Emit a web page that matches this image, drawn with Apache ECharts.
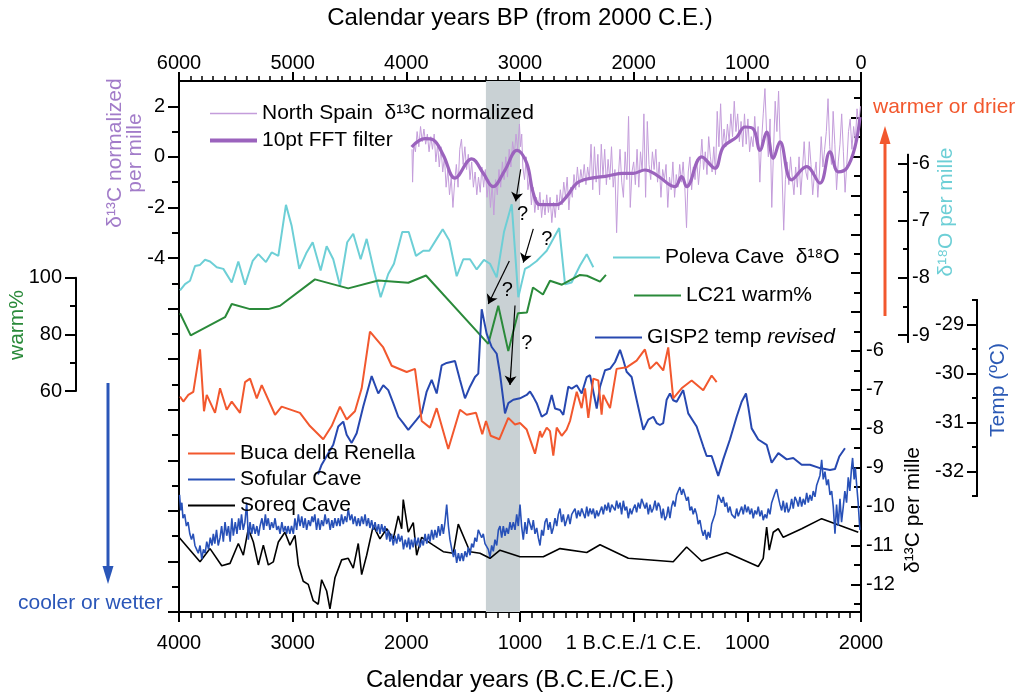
<!DOCTYPE html>
<html><head><meta charset="utf-8">
<script src="https://cdn.jsdelivr.net/npm/echarts@6/dist/echarts.min.js"></script>
<style>html,body{margin:0;padding:0;background:#fff}#c{width:1019px;height:697px}</style>
</head><body><div id="c"></div><script>
const FONT = '"Liberation Sans", Arial, Helvetica, sans-serif';

// ---- data (year C.E., negative = B.C.E.) ----
const spainRaw = [[-1950,0.3],[-1945,-1.0],[-1935,0.5],[-1920,0.2],[-1905,1.0],[-1890,0.4],[-1875,1.2],[-1860,0.6],[-1845,1.1],[-1830,0.5],[-1815,0.9],[-1800,0.2],[-1785,0.8],[-1770,0.3],[-1755,0.9],[-1740,-0.2],[-1725,0.5],[-1710,-0.4],[-1695,0.4],[-1680,-0.6],[-1665,0.0],[-1650,-1.2],[-1635,-0.5],[-1620,-1.5],[-1605,-0.8],[-1590,-2.0],[-1575,-1.0],[-1560,-0.3],[-1545,-1.2],[-1530,0.3],[-1515,0.7],[-1500,-0.3],[-1485,0.4],[-1470,-0.5],[-1455,0.1],[-1440,-0.9],[-1425,-0.2],[-1410,-1.2],[-1395,-0.6],[-1380,-1.5],[-1365,-0.8],[-1350,-1.4],[-1335,-0.4],[-1320,-1.2],[-1305,-0.5],[-1290,-1.6],[-1275,-0.9],[-1260,-2.0],[-1245,-1.1],[-1230,-2.3],[-1215,-0.9],[-1200,-1.5],[-1185,-0.5],[-1170,-1.2],[-1155,-0.2],[-1140,-0.9],[-1125,0.0],[-1110,-0.8],[-1095,0.3],[-1080,-0.4],[-1065,0.6],[-1050,0.1],[-1035,0.9],[-1020,0.3],[-1005,1.3],[-995,0.4],[-985,0.9],[-975,-0.4],[-960,-0.9],[-945,0.0],[-930,-1.3],[-915,-0.8],[-900,-1.9],[-885,-1.2],[-870,-2.2],[-855,-1.6],[-840,-2.1],[-825,-1.4],[-810,-2.4],[-795,-1.7],[-780,-2.3],[-765,-1.5],[-750,-2.2],[-735,-1.6],[-720,-2.6],[-705,-1.8],[-690,-2.4],[-675,-1.5],[-660,-2.1],[-645,-1.3],[-630,-1.9],[-615,-1.0],[-600,-1.6],[-585,-0.8],[-570,-2.1],[-555,-1.2],[-540,-1.6],[-525,-0.7],[-510,-1.3],[-495,-0.4],[-480,-1.2],[-465,-0.5],[-450,-1.0],[-435,-0.3],[-420,-1.1],[-405,-0.4],[-390,-0.9],[-375,0.5],[-360,-1.3],[-345,0.4],[-330,-1.0],[-315,0.1],[-300,-1.5],[-285,0.5],[-270,-0.8],[-255,0.3],[-240,-1.1],[-225,-0.1],[-210,-0.9],[-195,0.4],[-180,-1.2],[-165,-0.5],[-150,-3.0],[-135,-0.8],[-120,0.3],[-105,-1.0],[-90,-1.6],[-75,0.2],[-60,-0.9],[-45,1.6],[-30,-2.0],[-15,-0.6],[0,-0.2],[15,-1.1],[30,0.3],[45,-1.2],[60,0.2],[75,-0.6],[90,1.7],[105,-1.6],[120,1.4],[135,-0.3],[150,-0.9],[165,0.2],[180,-0.5],[195,0.3],[210,-1.0],[225,-0.2],[240,-1.6],[255,-0.5],[270,-0.9],[285,-0.3],[300,-2.0],[315,-0.8],[330,-1.3],[345,-0.2],[360,-1.6],[375,-0.7],[390,-1.2],[405,-0.3],[420,-1.0],[435,-0.2],[450,-1.2],[465,-2.8],[480,-0.6],[495,0.0],[510,-1.3],[525,-0.4],[540,-0.9],[555,-0.1],[570,-1.1],[585,-0.3],[600,0.7],[615,-0.5],[630,0.2],[645,-0.7],[660,0.8],[675,0.0],[690,-0.6],[705,0.4],[720,-0.7],[735,1.8],[750,0.4],[765,2.1],[780,0.3],[795,1.1],[810,0.4],[825,1.3],[840,0.6],[855,1.7],[870,0.8],[885,2.2],[900,1.0],[915,1.7],[930,0.6],[945,1.4],[960,0.4],[975,1.7],[990,0.5],[1005,1.5],[1020,0.2],[1035,0.8],[1050,0.4],[1065,1.6],[1080,0.5],[1095,1.2],[1110,-1.0],[1125,0.6],[1140,1.7],[1155,2.7],[1170,0.9],[1185,0.0],[1200,1.5],[1215,-2.0],[1230,0.2],[1245,2.2],[1260,1.0],[1275,2.6],[1290,0.4],[1305,-0.6],[1320,-2.9],[1335,-0.9],[1350,-0.2],[1365,-1.1],[1380,0.0],[1395,-0.8],[1410,-1.5],[1425,-0.4],[1440,-1.2],[1455,0.0],[1470,-1.5],[1485,-0.5],[1500,0.6],[1515,-0.6],[1530,-0.9],[1545,0.6],[1560,-0.3],[1575,-1.5],[1590,-0.7],[1605,-0.2],[1620,-1.6],[1635,-0.6],[1650,0.8],[1665,-0.4],[1680,0.3],[1695,1.0],[1710,2.3],[1725,0.4],[1740,-0.3],[1755,1.8],[1770,0.5],[1785,-1.3],[1800,-0.2],[1815,0.5],[1830,1.7],[1845,0.2],[1860,-1.4],[1875,-0.3],[1890,1.0],[1905,1.5],[1920,0.3],[1935,1.2],[1950,0.6],[1965,1.9],[1980,1.3],[1995,2.0]];

const spainFFT = [[-1953,0.39],[-1836,0.72],[-1763,0.67],[-1675,0.07],[-1572,-0.84],[-1425,-0.08],[-1323,-0.65],[-1238,-1.18],[-1132,-0.52],[-1027,0.26],[-941,-0.25],[-883,-1.44],[-824,-1.89],[-677,-1.89],[-590,-1.57],[-501,-1.04],[-384,-0.85],[-238,-0.76],[-91,-0.65],[-3,-0.65],[99,-0.52],[202,-0.72],[363,-1.18],[422,-0.78],[466,-1.18],[598,0.0],[715,-0.45],[788,0.39],[906,0.78],[979,1.18],[1052,1.11],[1111,0.26],[1170,0.98],[1228,-0.06],[1287,0.59],[1390,-0.91],[1522,-0.39],[1639,-1.04],[1727,0.20],[1800,-0.59],[1874,-0.45],[1947,0.39],[1991,1.57]];

const polevaD18O = [[-3991,-8.26],[-3947,-8.15],[-3903,-8.09],[-3859,-7.83],[-3815,-7.81],[-3771,-7.72],[-3727,-7.75],[-3668,-7.85],[-3610,-7.88],[-3536,-8.12],[-3478,-7.75],[-3419,-8.16],[-3352,-7.74],[-3302,-7.62],[-3235,-7.76],[-3185,-7.59],[-3126,-7.65],[-3059,-6.75],[-3009,-7.12],[-2942,-7.88],[-2877,-7.59],[-2824,-7.41],[-2754,-7.91],[-2701,-7.48],[-2643,-7.71],[-2584,-8.18],[-2520,-7.41],[-2467,-7.26],[-2402,-7.71],[-2349,-7.35],[-2285,-7.91],[-2226,-8.38],[-2159,-7.97],[-2109,-7.79],[-2036,-7.23],[-1979,-7.23],[-1915,-7.65],[-1851,-7.56],[-1798,-7.56],[-1733,-7.35],[-1680,-7.18],[-1622,-7.38],[-1557,-8.01],[-1499,-7.71],[-1440,-7.71],[-1381,-7.89],[-1317,-7.72],[-1264,-7.79],[-1205,-8.03],[-1141,-7.23],[-1073,-6.74],[-1015,-8.38],[-956,-7.88],[-912,-7.83],[-853,-7.74],[-809,-7.65],[-765,-7.56],[-707,-7.35],[-655,-7.16],[-604,-8.15],[-546,-8.12],[-472,-7.82],[-413,-7.62],[-355,-7.85]];

const lc21Warm = [[-3991,86.5],[-3897,78.6],[-3595,85.1],[-3536,89.8],[-3375,88.0],[-3214,88.0],[-3111,89.2],[-2804,98.6],[-2511,95.4],[-2247,98.2],[-1983,97.4],[-1827,100.0],[-1279,75.6],[-1191,89.2],[-1103,73.0],[-1018,86.5],[-939,86.8],[-886,95.7],[-798,93.2],[-736,98.1],[-631,96.7],[-472,100.2],[-411,99.9],[-296,97.8],[-244,100.2]];

const gisp2Temp = [[-2777,-32.14],[-2745,-31.94],[-2643,-31.53],[-2599,-31.15],[-2555,-31.05],[-2525,-31.32],[-2481,-31.49],[-2437,-31.29],[-2379,-30.74],[-2305,-30.11],[-2247,-30.47],[-2203,-30.30],[-2159,-30.40],[-2115,-30.67],[-2071,-30.95],[-2027,-31.08],[-1983,-31.22],[-1909,-31.01],[-1865,-30.88],[-1821,-30.43],[-1777,-30.19],[-1733,-30.47],[-1689,-29.89],[-1645,-29.84],[-1572,-29.80],[-1528,-30.19],[-1484,-30.57],[-1440,-30.33],[-1396,-30.13],[-1367,-30.06],[-1337,-28.73],[-1293,-29.24],[-1249,-29.51],[-1205,-29.65],[-1176,-30.06],[-1132,-30.88],[-1103,-30.67],[-1059,-30.60],[-1000,-30.57],[-941,-30.50],[-912,-30.43],[-883,-30.54],[-853,-30.67],[-809,-30.95],[-765,-30.88],[-721,-30.50],[-692,-30.78],[-648,-30.81],[-619,-30.91],[-575,-30.33],[-545,-30.37],[-501,-30.30],[-457,-30.47],[-413,-30.13],[-384,-30.09],[-355,-30.43],[-325,-30.78],[-296,-30.33],[-252,-29.99],[-208,-29.96],[-164,-29.82],[-120,-29.57],[-91,-29.78],[-62,-30.02],[-18,-30.13],[26,-30.60],[85,-31.22],[129,-31.01],[173,-30.95],[202,-31.08],[231,-31.12],[260,-31.08],[290,-30.60],[319,-30.47],[348,-30.61],[378,-30.64],[436,-30.40],[480,-30.88],[554,-31.15],[612,-31.56],[642,-31.76],[686,-31.76],[744,-32.17],[788,-31.83],[847,-31.42],[906,-30.95],[950,-30.64],[988,-30.47],[1008,-30.74],[1038,-31.19],[1096,-31.42],[1170,-31.53],[1214,-31.90],[1273,-31.70],[1346,-31.83],[1404,-31.80],[1478,-31.94],[1551,-31.94],[1639,-32.01],[1683,-32.03],[1727,-32.05],[1771,-32.03],[1809,-31.77],[1859,-31.60]];

const bucaD13C = [[-3991,-7.17],[-3962,-7.30],[-3918,-7.13],[-3874,-7.05],[-3815,-5.96],[-3780,-7.55],[-3756,-7.13],[-3683,-7.59],[-3639,-6.96],[-3580,-7.51],[-3536,-7.30],[-3463,-7.59],[-3419,-6.80],[-3375,-6.71],[-3316,-7.22],[-3272,-6.88],[-3155,-7.64],[-3097,-7.43],[-2936,-7.59],[-2848,-7.93],[-2731,-8.27],[-2657,-7.93],[-2584,-7.43],[-2525,-7.76],[-2452,-7.55],[-2393,-6.96],[-2320,-5.50],[-2203,-5.91],[-2129,-6.38],[-1997,-6.54],[-1924,-6.46],[-1865,-7.80],[-1792,-7.97],[-1733,-7.47],[-1631,-8.52],[-1528,-7.51],[-1469,-7.64],[-1387,-7.59],[-1332,-8.14],[-1299,-7.80],[-1258,-8.18],[-1182,-8.27],[-1103,-7.72],[-1044,-7.89],[-1000,-7.85],[-941,-8.02],[-868,-8.64],[-824,-8.06],[-809,-8.22],[-765,-7.97],[-736,-8.06],[-707,-8.69],[-677,-7.97],[-633,-8.18],[-590,-8.02],[-560,-7.80],[-501,-7.05],[-458,-7.47],[-428,-6.96],[-399,-7.72],[-355,-6.71],[-311,-6.76],[-282,-7.64],[-267,-7.13],[-208,-7.47],[-150,-6.46],[-62,-6.42],[26,-6.25],[99,-5.96],[143,-6.46],[202,-6.29],[260,-6.50],[304,-5.91],[348,-7.22],[422,-6.96],[510,-6.76],[612,-7.01],[686,-6.63],[730,-6.80]];

const sofularD13C = [[-3995,-9.7],[-3985,-10.1],[-3975,-9.9],[-3965,-10.3],[-3950,-10.2],[-3935,-10.5],[-3920,-10.4],[-3905,-10.7],[-3890,-10.85],[-3875,-10.7],[-3860,-11.0],[-3845,-11.1],[-3830,-11.2],[-3815,-11.0],[-3800,-11.35],[-3785,-11.1],[-3770,-11.2],[-3756,-10.9],[-3740,-11.1],[-3725,-10.8],[-3710,-11.0],[-3698,-10.7],[-3685,-10.95],[-3670,-10.6],[-3655,-11.0],[-3639,-10.8],[-3625,-10.5],[-3610,-10.9],[-3595,-10.4],[-3580,-10.75],[-3565,-10.5],[-3550,-10.9],[-3535,-10.3],[-3522,-10.75],[-3505,-10.4],[-3490,-10.7],[-3475,-10.3],[-3463,-10.6],[-3450,-10.2],[-3435,-10.6],[-3420,-10.4],[-3404,-9.9],[-3395,-10.5],[-3390,-10.85],[-3375,-10.4],[-3360,-10.7],[-3346,-10.45],[-3330,-10.7],[-3315,-10.5],[-3300,-10.75],[-3287,-10.5],[-3270,-10.3],[-3255,-10.6],[-3240,-10.2],[-3229,-10.5],[-3215,-10.3],[-3200,-10.6],[-3185,-10.4],[-3170,-10.55],[-3155,-10.3],[-3140,-10.6],[-3125,-10.5],[-3111,-10.7],[-3095,-10.4],[-3080,-10.65],[-3065,-10.5],[-3053,-10.7],[-3040,-10.5],[-3025,-10.7],[-3010,-10.5],[-2994,-10.7],[-2980,-10.3],[-2965,-10.6],[-2950,-10.2],[-2935,-10.5],[-2920,-10.25],[-2905,-10.55],[-2890,-10.3],[-2877,-10.6],[-2860,-10.35],[-2845,-10.5],[-2830,-10.25],[-2819,-10.4],[-2805,-10.2],[-2790,-10.6],[-2775,-10.3],[-2760,-10.6],[-2745,-10.35],[-2730,-10.5],[-2715,-10.2],[-2701,-10.45],[-2685,-10.3],[-2670,-10.6],[-2655,-10.35],[-2643,-10.55],[-2628,-10.3],[-2612,-10.5],[-2598,-10.3],[-2584,-10.5],[-2570,-10.2],[-2555,-10.45],[-2540,-10.25],[-2525,-10.4],[-2511,-10.05],[-2495,-10.35],[-2480,-10.2],[-2467,-10.45],[-2452,-10.25],[-2437,-10.5],[-2422,-10.3],[-2408,-10.5],[-2393,-10.25],[-2378,-10.45],[-2363,-10.2],[-2349,-10.5],[-2334,-10.3],[-2320,-10.55],[-2305,-10.35],[-2291,-10.6],[-2275,-10.4],[-2260,-10.65],[-2245,-10.45],[-2232,-10.7],[-2217,-10.45],[-2203,-10.65],[-2188,-10.5],[-2173,-10.85],[-2158,-10.6],[-2144,-10.9],[-2130,-10.7],[-2115,-11.0],[-2100,-10.75],[-2085,-10.95],[-2070,-10.7],[-2056,-10.9],[-2040,-10.75],[-2025,-11.1],[-2010,-10.85],[-1995,-11.05],[-1980,-10.8],[-1968,-11.1],[-1955,-10.85],[-1940,-11.05],[-1925,-10.8],[-1909,-11.0],[-1895,-10.8],[-1880,-11.05],[-1865,-10.85],[-1851,-11.0],[-1835,-10.7],[-1820,-10.95],[-1805,-10.7],[-1792,-10.9],[-1777,-10.6],[-1762,-10.85],[-1748,-10.6],[-1733,-10.8],[-1718,-10.5],[-1703,-10.75],[-1688,-10.45],[-1674,-10.7],[-1660,-10.4],[-1645,-9.95],[-1630,-10.5],[-1616,-10.85],[-1600,-11.1],[-1585,-11.3],[-1572,-11.1],[-1557,-11.45],[-1542,-11.2],[-1528,-11.4],[-1513,-11.2],[-1499,-11.4],[-1484,-11.15],[-1469,-11.3],[-1455,-11.05],[-1440,-11.25],[-1425,-10.95],[-1410,-11.05],[-1396,-10.8],[-1381,-10.9],[-1367,-10.6],[-1352,-10.55],[-1337,-10.8],[-1323,-10.7],[-1308,-10.95],[-1293,-10.9],[-1279,-11.1],[-1264,-11.3],[-1249,-11.0],[-1235,-11.15],[-1220,-10.85],[-1205,-11.0],[-1190,-10.6],[-1176,-10.5],[-1161,-10.8],[-1147,-10.5],[-1132,-10.75],[-1118,-10.55],[-1103,-10.7],[-1088,-10.4],[-1074,-10.6],[-1059,-10.4],[-1044,-10.6],[-1029,-10.2],[-1015,-10.5],[-1000,-9.95],[-986,-10.5],[-971,-10.85],[-956,-10.4],[-941,-10.7],[-927,-10.3],[-912,-10.25],[-897,-10.6],[-883,-10.35],[-868,-10.7],[-853,-10.55],[-839,-10.8],[-824,-11.0],[-809,-10.6],[-795,-10.75],[-780,-10.4],[-765,-10.3],[-751,-10.6],[-736,-10.4],[-721,-10.7],[-707,-10.55],[-692,-10.3],[-677,-10.5],[-663,-10.2],[-648,-10.05],[-633,-10.4],[-619,-10.2],[-604,-10.5],[-590,-10.45],[-575,-10.2],[-560,-10.45],[-545,-10.2],[-531,-10.25],[-516,-10.05],[-501,-10.3],[-487,-10.1],[-472,-10.25],[-457,-10.05],[-443,-10.1],[-428,-10.3],[-413,-10.0],[-399,-10.25],[-384,-10.05],[-369,-10.2],[-355,-10.05],[-340,-10.3],[-325,-10.1],[-311,-10.25],[-296,-10.2],[-281,-10.0],[-267,-10.2],[-252,-9.95],[-237,-10.1],[-223,-9.9],[-208,-10.15],[-193,-9.95],[-179,-9.9],[-164,-10.1],[-150,-9.85],[-135,-10.05],[-120,-9.9],[-106,-10.2],[-91,-9.85],[-76,-10.1],[-62,-10.0],[-47,-10.3],[-32,-10.05],[-18,-10.2],[-3,-10.05],[12,-9.95],[26,-10.15],[41,-9.9],[56,-10.05],[70,-9.8],[85,-9.75],[100,-10.05],[114,-9.9],[129,-10.2],[144,-9.95],[158,-10.15],[173,-10.05],[188,-9.85],[202,-10.1],[217,-9.9],[231,-10.0],[246,-10.3],[260,-10.05],[275,-10.35],[290,-10.25],[304,-10.0],[319,-10.3],[334,-10.0],[348,-9.85],[363,-10.0],[378,-9.7],[392,-9.6],[407,-9.5],[422,-9.7],[436,-9.55],[451,-9.6],[466,-9.85],[480,-9.75],[495,-10.1],[510,-10.0],[524,-10.2],[539,-10.05],[554,-10.2],[568,-10.45],[583,-10.35],[598,-10.6],[612,-10.75],[627,-10.6],[642,-10.85],[656,-10.65],[671,-10.8],[686,-10.45],[700,-10.5],[715,-10.2],[730,-9.95],[744,-9.7],[759,-9.65],[774,-9.9],[788,-9.75],[803,-10.0],[818,-9.9],[832,-10.15],[847,-10.0],[862,-10.2],[876,-10.15],[891,-10.3],[906,-10.05],[920,-10.25],[935,-10.2],[950,-10.0],[964,-10.2],[979,-9.95],[994,-10.15],[1008,-10.0],[1023,-10.2],[1038,-10.05],[1052,-10.3],[1067,-10.1],[1082,-10.2],[1096,-10.0],[1111,-10.25],[1126,-10.1],[1140,-10.35],[1155,-10.2],[1170,-10.3],[1184,-10.05],[1199,-10.2],[1214,-9.9],[1228,-9.85],[1243,-9.65],[1258,-9.55],[1272,-9.75],[1287,-9.95],[1302,-10.1],[1316,-9.85],[1331,-10.15],[1346,-9.9],[1360,-10.15],[1375,-10.05],[1390,-9.8],[1404,-10.05],[1419,-9.75],[1434,-9.85],[1448,-10.0],[1463,-9.75],[1478,-10.0],[1492,-9.8],[1507,-9.95],[1522,-9.65],[1536,-9.9],[1551,-9.7],[1566,-9.85],[1580,-9.6],[1595,-9.75],[1610,-9.45],[1624,-9.4],[1639,-9.2],[1654,-8.8],[1668,-9.3],[1683,-9.1],[1698,-9.45],[1712,-9.3],[1727,-9.7],[1742,-9.6],[1756,-10.0],[1771,-10.7],[1785,-9.95],[1800,-10.5],[1815,-9.8],[1829,-10.4],[1844,-10.0],[1858,-9.6],[1873,-9.9],[1888,-9.25],[1902,-9.6],[1917,-9.0],[1926,-8.75],[1940,-9.3],[1950,-9.0],[1962,-9.45],[1975,-9.9],[1990,-10.6]];

const soreqD13C = [[-4000,-10.79],[-3815,-11.42],[-3727,-11.08],[-3624,-11.52],[-3551,-11.46],[-3478,-10.95],[-3434,-11.25],[-3390,-10.57],[-3346,-10.91],[-3302,-11.50],[-3258,-10.99],[-3214,-11.50],[-3170,-11.42],[-3126,-10.91],[-3068,-10.66],[-3024,-10.99],[-2980,-10.74],[-2950,-11.50],[-2907,-11.92],[-2863,-12.00],[-2819,-12.42],[-2775,-12.51],[-2745,-11.88],[-2701,-12.17],[-2672,-12.63],[-2628,-11.83],[-2569,-11.37],[-2511,-11.33],[-2467,-11.58],[-2423,-10.95],[-2393,-11.75],[-2349,-11.25],[-2291,-10.49],[-2232,-10.83],[-2173,-10.57],[-2115,-10.83],[-2071,-10.24],[-2041,-10.57],[-2027,-9.82],[-1983,-10.66],[-1939,-10.41],[-1909,-11.25],[-1865,-10.79],[-1763,-10.99],[-1675,-11.16],[-1587,-11.20],[-1543,-10.45],[-1440,-11.16],[-1352,-11.20],[-1264,-11.33],[-1176,-11.12],[-1000,-11.29],[-795,-11.29],[-648,-11.08],[-413,-11.18],[-296,-10.98],[-47,-11.33],[348,-11.42],[466,-11.04],[598,-11.40],[818,-11.18],[1096,-11.54],[1140,-11.33],[1170,-10.53],[1193,-11.12],[1228,-10.66],[1272,-10.57],[1316,-10.79],[1478,-10.57],[1654,-10.31],[1976,-10.66]];

// ---- axes / annotations ----
const bottomTicks = [-4000,-3000,-2000,-1000,0,1000,2000];
const bottomTickLabels = ['4000','3000','2000','1000','1 B.C.E./1 C.E.','1000','2000'];
const leftMajorTicks = [-18,-16,-14,-12,-10,-8,-6,-4,-2,0,2];
const leftMinorTicks = [-17,-15,-13,-11,-9,-7,-5,-3,-1,1];
const leftLabels = [-4,-2,0,2];
const rightMajorTicks = [-12,-11,-10,-9,-8,-7,-6,-5,-4,-3,-2,-1,0];
const rightMinorTicks = [-12.5,-11.5,-10.5,-9.5,-8.5,-7.5,-6.5,-5.5,-4.5,-3.5,-2.5,-1.5,-0.5,0.5];
const rightLabels = [-12,-11,-10,-9,-8,-7,-6];
const d18Major = [-9,-8,-7,-6];
const d18Minor = [-8.5,-7.5,-6.5];
const tempMajor = [-32,-31,-30,-29];
const tempMinor = [-32.5,-31.5,-30.5,-29.5,-28.5];
const bandRange = [-1300,-1000];
const arrowSegments = [[[-994,-0.49],[-1038,-1.76]],[[-883,-2.85],[-971,-4.18]],[[-1094,-4.12],[-1279,-5.82]],[[-1044,-5.88],[-1088,-9.02]]];
const questionMarks = [[-977,-2.29],[-765,-3.27],[-1112,-5.29],[-941,-7.38]];

const BLK = '#000';
const C_RAW = '#c49ddb', C_FFT = '#9b63bd', C_PURPLE_TXT = '#a27cc9', C_CYAN = '#6dcfd6', C_GREEN = '#2a8a3a',
      C_RED = '#f2582e', C_BLUE = '#2748b0', C_SOF = '#2851b8';
const ICON_THIN = 'path://M0,0h47v1.4h-47z';
const ICON_MED = 'path://M0,0h47v2.2h-47z';
const ICON_THICK = 'path://M0,0h47v4h-47z';

function yax(o) {
  return Object.assign({
    type: 'value', splitLine: {show: false}, minorSplitLine: {show: false}, offset: 0,
    axisLine: {show: true, onZero: false, lineStyle: {color: BLK, width: 2}},
  }, o);
}
const lblStyle = {fontSize: 20, color: BLK, fontFamily: FONT};
const legText = {fontSize: 21, color: BLK, fontFamily: FONT};
const legBase = {itemWidth: 47, itemHeight: 14, padding: 0, selectedMode: false, symbolKeepAspect: true, textStyle: legText};

const chart = echarts.init(document.getElementById('c'));
const option = {
  animation: false,
  backgroundColor: '#fff',
  textStyle: {fontFamily: FONT},
  grid: [
    {left: 179, top: 81, width: 682, height: 537},
    {left: 76, top: 277.7, width: 10, height: 113.3},
    {left: 898, top: 154.7, width: 10, height: 187.3},
    {left: 977, top: 300, width: 10, height: 196}
  ],
  xAxis: [
    {gridIndex: 0, type: 'value', position: 'bottom', min: -4000, max: 2000, interval: 1000,
     axisLine: {show: true, onZero: false, lineStyle: {color: BLK, width: 2}},
     axisTick: {show: true, length: 10, lineStyle: {color: BLK, width: 2}},
     minorTick: {show: true, splitNumber: 10, length: 6, lineStyle: {color: BLK, width: 1.5}},
     splitLine: {show: false}, minorSplitLine: {show: false},
     axisLabel: Object.assign({margin: 21, formatter: v => { const i = bottomTicks.indexOf(v); return i >= 0 ? bottomTickLabels[i] : ''; }}, lblStyle),
     name: 'Calendar years (B.C.E./C.E.)', nameLocation: 'middle', nameGap: 56,
     nameTextStyle: {fontSize: 24, color: BLK, fontFamily: FONT}},
    {gridIndex: 0, type: 'value', position: 'top', inverse: true, min: 0, max: 6000, interval: 1000,
     axisLine: {show: true, onZero: false, lineStyle: {color: BLK, width: 2}},
     axisTick: {show: true, length: 9, lineStyle: {color: BLK, width: 2}},
     minorTick: {show: true, splitNumber: 10, length: 5, lineStyle: {color: BLK, width: 1.5}},
     splitLine: {show: false}, minorSplitLine: {show: false},
     axisLabel: Object.assign({margin: 8, formatter: v => String(v)}, lblStyle),
     name: 'Calendar years BP (from 2000 C.E.)', nameLocation: 'middle', nameGap: 51,
     nameTextStyle: {fontSize: 24, color: BLK, fontFamily: FONT}},
    {gridIndex: 1, type: 'value', show: false},
    {gridIndex: 2, type: 'value', show: false},
    {gridIndex: 3, type: 'value', show: false}
  ],
  yAxis: [
    yax({gridIndex: 0, position: 'left', min: -18, max: 3,
      axisTick: {show: true, length: 11, customValues: leftMajorTicks, lineStyle: {color: BLK, width: 2}},
      axisLabel: Object.assign({show: true, margin: 14, customValues: leftLabels}, lblStyle)}),
    yax({gridIndex: 0, position: 'left', min: -18, max: 3,
      axisTick: {show: true, length: 7, customValues: leftMinorTicks, lineStyle: {color: BLK, width: 2}},
      axisLabel: {show: false}}),
    yax({gridIndex: 0, position: 'right', min: -12.71, max: 0.94,
      axisTick: {show: true, inside: true, length: 10, customValues: rightMajorTicks, lineStyle: {color: BLK, width: 2}},
      axisLabel: Object.assign({show: true, margin: 5, customValues: rightLabels}, lblStyle)}),
    yax({gridIndex: 0, position: 'right', min: -12.71, max: 0.94,
      axisTick: {show: true, inside: true, length: 7, customValues: rightMinorTicks, lineStyle: {color: BLK, width: 2}},
      axisLabel: {show: false}}),
    {gridIndex: 0, type: 'value', show: false, min: -13.938, max: -4.563},
    {gridIndex: 0, type: 'value', show: false, min: -20.1, max: 169.4},
    {gridIndex: 0, type: 'value', show: false, min: -34.98, max: -24.02},
    yax({gridIndex: 1, position: 'left', min: 60, max: 100, interval: 20,
      axisTick: {show: true, length: 11, lineStyle: {color: BLK, width: 2}},
      minorTick: {show: true, splitNumber: 2, length: 6, lineStyle: {color: BLK, width: 2}},
      axisLabel: Object.assign({show: true, margin: 14}, lblStyle)}),
    yax({gridIndex: 2, position: 'right', min: -9.12, max: -5.85,
      axisTick: {show: true, inside: true, length: 10, customValues: d18Major, lineStyle: {color: BLK, width: 2}},
      axisLabel: Object.assign({show: true, margin: 4, customValues: d18Major}, lblStyle)}),
    yax({gridIndex: 2, position: 'right', min: -9.12, max: -5.85,
      axisTick: {show: true, inside: true, length: 5, customValues: d18Minor, lineStyle: {color: BLK, width: 2}},
      axisLabel: {show: false}}),
    yax({gridIndex: 3, position: 'left', min: -32.5, max: -28.5,
      axisTick: {show: true, length: 10, customValues: tempMajor, lineStyle: {color: BLK, width: 2}},
      axisLabel: Object.assign({show: true, margin: 13, customValues: tempMajor}, lblStyle)}),
    yax({gridIndex: 3, position: 'left', min: -32.5, max: -28.5,
      axisTick: {show: true, length: 5, customValues: tempMinor, lineStyle: {color: BLK, width: 2}},
      axisLabel: {show: false}})
  ],
  legend: [
    Object.assign({}, legBase, {orient: 'vertical', left: 210, top: 103, itemGap: 6,
      data: [{name: 'North Spain  δ¹³C normalized', icon: ICON_THIN}, {name: '10pt FFT filter', icon: ICON_THICK}]}),
    Object.assign({}, legBase, {left: 613, top: 247, data: [{name: 'Poleva Cave  δ¹⁸O', icon: ICON_MED}]}),
    Object.assign({}, legBase, {left: 634, top: 285, data: [{name: 'LC21 warm%', icon: ICON_MED}]}),
    Object.assign({}, legBase, {left: 595, top: 327, data: [{name: 'GISP2 temp revised', icon: ICON_MED}],
      formatter: () => 'GISP2 temp {i|revised}',
      textStyle: Object.assign({}, legText, {rich: {i: {fontStyle: 'italic', fontSize: 21, color: BLK, fontFamily: FONT}}})}),
    Object.assign({}, legBase, {orient: 'vertical', left: 188, top: 443, itemGap: 5,
      data: [{name: 'Buca della Renella', icon: ICON_MED}, {name: 'Sofular Cave', icon: ICON_MED}, {name: 'Soreq Cave', icon: ICON_MED}]})
  ],
  graphic: [
    {type: 'text', x: 125, y: 153, rotation: Math.PI / 2, z: 10,
     style: {text: 'δ¹³C normalized\nper mille', fill: C_PURPLE_TXT, font: '21px ' + FONT, align: 'center', verticalAlign: 'middle', textAlign: 'center', textVerticalAlign: 'middle', lineHeight: 20}},
    {type: 'text', x: 17, y: 325, rotation: Math.PI / 2, z: 10,
     style: {text: 'warm%', fill: C_GREEN, font: '21px ' + FONT, align: 'center', verticalAlign: 'middle', textAlign: 'center', textVerticalAlign: 'middle'}},
    {type: 'text', x: 946, y: 212, rotation: Math.PI / 2, z: 10,
     style: {text: 'δ¹⁸O per mille', fill: C_CYAN, font: '21px ' + FONT, align: 'center', verticalAlign: 'middle', textAlign: 'center', textVerticalAlign: 'middle'}},
    {type: 'text', x: 998, y: 390, rotation: Math.PI / 2, z: 10,
     style: {text: 'Temp (ºC)', fill: '#2c5ab5', font: '21px ' + FONT, align: 'center', verticalAlign: 'middle', textAlign: 'center', textVerticalAlign: 'middle'}},
    {type: 'text', x: 913, y: 510, rotation: Math.PI / 2, z: 10,
     style: {text: 'δ¹³C per mille', fill: BLK, font: '21px ' + FONT, align: 'center', verticalAlign: 'middle', textAlign: 'center', textVerticalAlign: 'middle'}},
    {type: 'text', x: 873, y: 107, z: 10,
     style: {text: 'warmer or drier', fill: C_RED, font: '21px ' + FONT, align: 'left', verticalAlign: 'middle', textAlign: 'left', textVerticalAlign: 'middle'}},
    {type: 'text', x: 18, y: 603, z: 10,
     style: {text: 'cooler or wetter', fill: '#2a56b8', font: '21px ' + FONT, align: 'left', verticalAlign: 'middle', textAlign: 'left', textVerticalAlign: 'middle'}},
    {type: 'line', z: 10, shape: {x1: 885, y1: 316, x2: 885, y2: 140}, style: {stroke: C_RED, lineWidth: 3}},
    {type: 'polygon', z: 10, shape: {points: [[885, 126], [879.5, 144], [890.5, 144]]}, style: {fill: C_RED}},
    {type: 'line', z: 10, shape: {x1: 108, y1: 383, x2: 108, y2: 570}, style: {stroke: '#2a56b8', lineWidth: 3}},
    {type: 'polygon', z: 10, shape: {points: [[108, 584], [102.5, 566], [113.5, 566]]}, style: {fill: '#2a56b8'}}
  ],
  series: [
    {name: 'band', type: 'line', data: [], xAxisIndex: 0, yAxisIndex: 0, z: 0, silent: true,
     markArea: {silent: true, itemStyle: {color: '#c9d1d4', opacity: 1}, data: [[{xAxis: bandRange[0]}, {xAxis: bandRange[1]}]]}},
    {name: 'North Spain  δ¹³C normalized', type: 'line', data: spainRaw, xAxisIndex: 0, yAxisIndex: 0, symbol: 'none', z: 3,
     lineStyle: {color: C_RAW, width: 1}, itemStyle: {color: C_RAW}},
    {name: '10pt FFT filter', type: 'line', data: spainFFT, xAxisIndex: 0, yAxisIndex: 0, symbol: 'none', smooth: 0.4, z: 4,
     lineStyle: {color: C_FFT, width: 3.2}, itemStyle: {color: C_FFT}},
    {name: 'Poleva Cave  δ¹⁸O', type: 'line', data: polevaD18O, xAxisIndex: 0, yAxisIndex: 4, symbol: 'none', z: 3,
     lineStyle: {color: C_CYAN, width: 2}, itemStyle: {color: C_CYAN}},
    {name: 'LC21 warm%', type: 'line', data: lc21Warm, xAxisIndex: 0, yAxisIndex: 5, symbol: 'none', z: 3,
     lineStyle: {color: C_GREEN, width: 2}, itemStyle: {color: C_GREEN}},
    {name: 'GISP2 temp revised', type: 'line', data: gisp2Temp, xAxisIndex: 0, yAxisIndex: 6, symbol: 'none', z: 3,
     lineStyle: {color: C_BLUE, width: 2}, itemStyle: {color: C_BLUE}},
    {name: 'Buca della Renella', type: 'line', data: bucaD13C, xAxisIndex: 0, yAxisIndex: 2, symbol: 'none', z: 3,
     lineStyle: {color: C_RED, width: 2}, itemStyle: {color: C_RED}},
    {name: 'Soreq Cave', type: 'line', data: soreqD13C, xAxisIndex: 0, yAxisIndex: 2, symbol: 'none', z: 3,
     lineStyle: {color: BLK, width: 1.6}, itemStyle: {color: BLK}},
    {name: 'Sofular Cave', type: 'line', data: sofularD13C, xAxisIndex: 0, yAxisIndex: 2, symbol: 'none', z: 3,
     lineStyle: {color: C_SOF, width: 1.6}, itemStyle: {color: C_SOF}},
    {name: 'arrows', type: 'line', data: [], xAxisIndex: 0, yAxisIndex: 0, z: 6, silent: true,
     markLine: {silent: true, symbol: ['none', 'arrow'], symbolSize: 9, animation: false,
       lineStyle: {color: BLK, width: 1.2, type: 'solid'}, label: {show: false},
       data: arrowSegments.map(s => [{coord: s[0]}, {coord: s[1]}])},
     markPoint: {silent: true, symbol: 'rect', symbolSize: 1, itemStyle: {color: 'rgba(0,0,0,0)'},
       label: {show: true, formatter: '?', color: BLK, fontSize: 20, fontFamily: FONT, position: 'inside'},
       data: questionMarks.map(q => ({coord: q}))}}
  ]
};
chart.setOption(option);
</script></body></html>
